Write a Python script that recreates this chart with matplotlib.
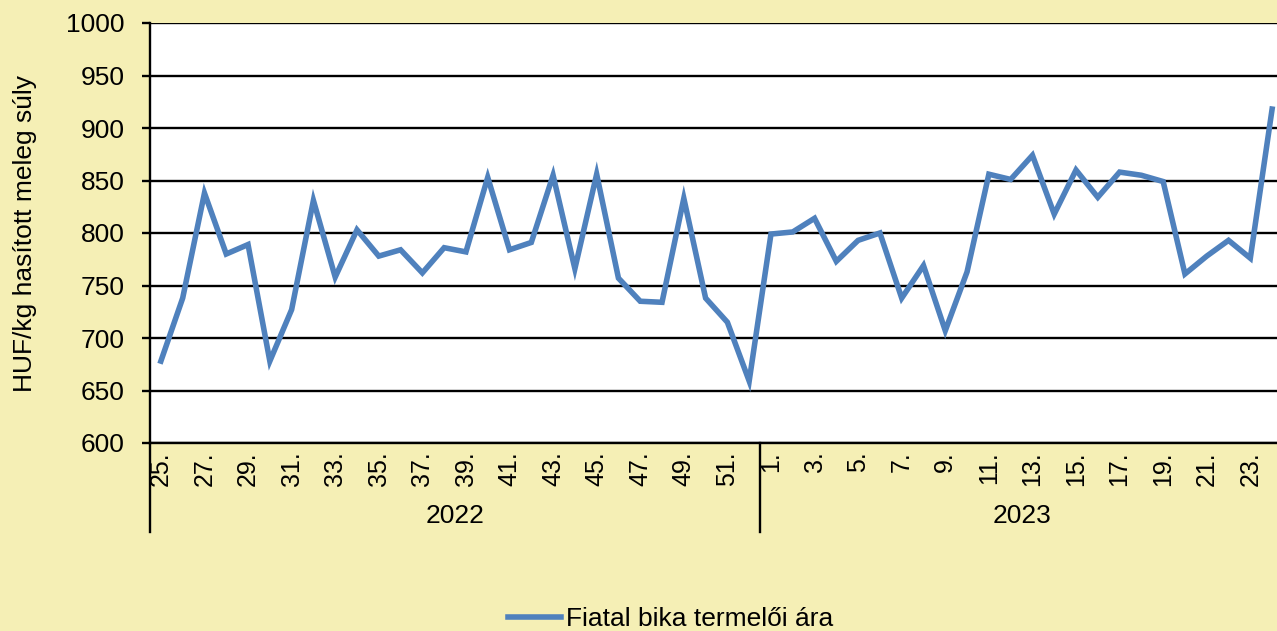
import matplotlib
matplotlib.use("Agg")
import matplotlib.pyplot as plt
import matplotlib.transforms as mtransforms

plt.rcParams['font.family'] = ['Liberation Sans', 'DejaVu Sans']

weeks_2022 = list(range(25, 53))
weeks_2023 = list(range(1, 25))
prices_2022 = [678, 738, 838, 780, 789, 678, 727, 831, 758, 803, 778, 784, 762, 786, 782,
               853, 784, 791, 855, 766, 856, 757, 735, 734, 833, 738, 715, 659]
prices_2023 = [799, 801, 814, 773, 793, 800, 738, 769, 707, 763, 856, 851, 874, 818, 860,
               834, 858, 855, 849, 761, 778, 793, 776, 918]
years = ['2022', '2023']
series_name = 'Fiatal bika termelői ára'
y_label = 'HUF/kg hasított meleg súly'

week_labels = [f'{w}.' for w in weeks_2022] + [f'{w}.' for w in weeks_2023]
values = prices_2022 + prices_2023
n = len(values)
n22 = len(prices_2022)

W, H = 1277, 631
fig = plt.figure(figsize=(W / 100, H / 100), dpi=100)
bg = '#F5EFB5'
fig.patch.set_facecolor(bg)

left, right, top, bottom = 150, 1283, 23, 443
ax = fig.add_axes([left / W, (H - bottom) / H, (right - left) / W, (bottom - top) / H])
ax.set_facecolor('white')

x = list(range(n))
ax.plot(x, values, color='#4F81BD', lw=4, solid_joinstyle='miter', label=series_name, zorder=3)

ax.set_xlim(-0.5, n - 0.5)
ax.set_ylim(600, 1000)
ax.set_yticks(range(600, 1001, 50))
ax.yaxis.grid(True, color='black', lw=1.7)
ax.set_axisbelow(True)

for s in ['top', 'right']:
    ax.spines[s].set_visible(False)
ax.spines['left'].set_linewidth(1.7)
ax.spines['bottom'].set_linewidth(1.7)

ax.tick_params(axis='y', length=6, width=1.7, pad=12, labelsize=19)
shown = [i for i in range(n) if i % 2 == 0]
ax.set_xticks(shown)
ax.set_xticklabels([week_labels[i] for i in shown], rotation=90, fontsize=18)
ax.tick_params(axis='x', length=0, pad=6)

trans = mtransforms.blended_transform_factory(ax.transData, ax.transAxes)
sep_depth = -(532 - bottom) / (bottom - top)
for xs in [-0.5, n22 - 0.5, n - 0.5]:
    ax.plot([xs, xs], [0, sep_depth], transform=trans, color='black', lw=1.7, clip_on=False)

year_y = -(516 - bottom) / (bottom - top)
ax.text((n22 - 1) / 2, year_y, years[0], transform=trans, ha='center', va='center', fontsize=19)
ax.text(n22 + (n - n22 - 1) / 2, year_y, years[1], transform=trans, ha='center', va='center', fontsize=19)

fig.text(25 / W, (H - 234) / H, y_label, rotation=90, ha='center', va='center', fontsize=19)

leg = fig.legend(loc='center', bbox_to_anchor=(671 / W, (H - 619) / H), frameon=False,
                 fontsize=19, handlelength=2.0, handletextpad=0.2)

fig.savefig('out.png', dpi=100, facecolor=bg)
